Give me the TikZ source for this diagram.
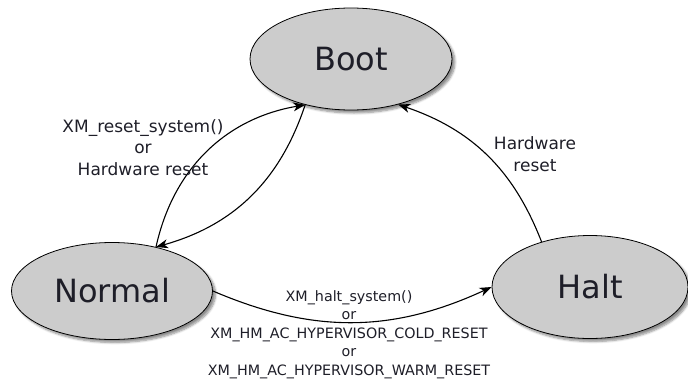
\documentclass[tikz,border=0pt]{standalone}
\usepackage{fontspec}
\setmainfont{DejaVu Sans}
\usetikzlibrary{shapes.geometric,arrows.meta,shadows.blur}
\definecolor{statefill}{HTML}{CCCCCC}
\definecolor{textcol}{HTML}{1E1E28}
\tikzset{
  state/.style={ellipse, draw=black, line width=0.8pt, fill=statefill, inner sep=0pt,
    font=\fontsize{32}{38}\selectfont, text=textcol,
    blur shadow={shadow xshift=3pt, shadow yshift=-3pt, shadow blur steps=6, shadow opacity=45}},
  trans/.style={line width=1.1pt, draw=black, -{Stealth[length=12pt,width=9pt,inset=3.5pt]}},
  lbl/.style={align=center, text=textcol, font=\fontsize{17}{21.5}\selectfont, inner sep=0pt},
  lblsmall/.style={align=center, text=textcol, font=\fontsize{14.3}{18.5}\selectfont, inner sep=0pt},
}
\begin{document}
\begin{tikzpicture}[x=1pt,y=1pt]
  \useasboundingbox (0,0) rectangle (688,-378);
  \node[state, minimum width=202pt, minimum height=102pt] (boot) at (351,-59) {Boot};
  \node[state, minimum width=201pt, minimum height=97pt] (normal) at (112,-291) {Normal};
  \node[state, minimum width=196pt, minimum height=103pt] (halt) at (590,-287) {Halt};

  \draw[trans] (normal.45) to[bend left=34] (boot.225);
  \draw[trans] (boot.225) to[bend left=28] (normal.45);
  \draw[trans] (halt.137) to[bend right=25] (boot.316);
  \draw[trans] (normal.0) to[bend right=24] (halt.180);

  \node[lbl, anchor=base] (lreset) at (143,-175) {XM\_reset\_system()\\or\\Hardware reset};
  \node[lbl, anchor=base] (lhw) at (535,-171) {Hardware\\reset};
  \node[lblsmall, anchor=base] (lhalt) at (349,-375) {XM\_halt\_system()\\or\\XM\_HM\_AC\_HYPERVISOR\_COLD\_RESET\\or\\XM\_HM\_AC\_HYPERVISOR\_WARM\_RESET};
\end{tikzpicture}
\end{document}
